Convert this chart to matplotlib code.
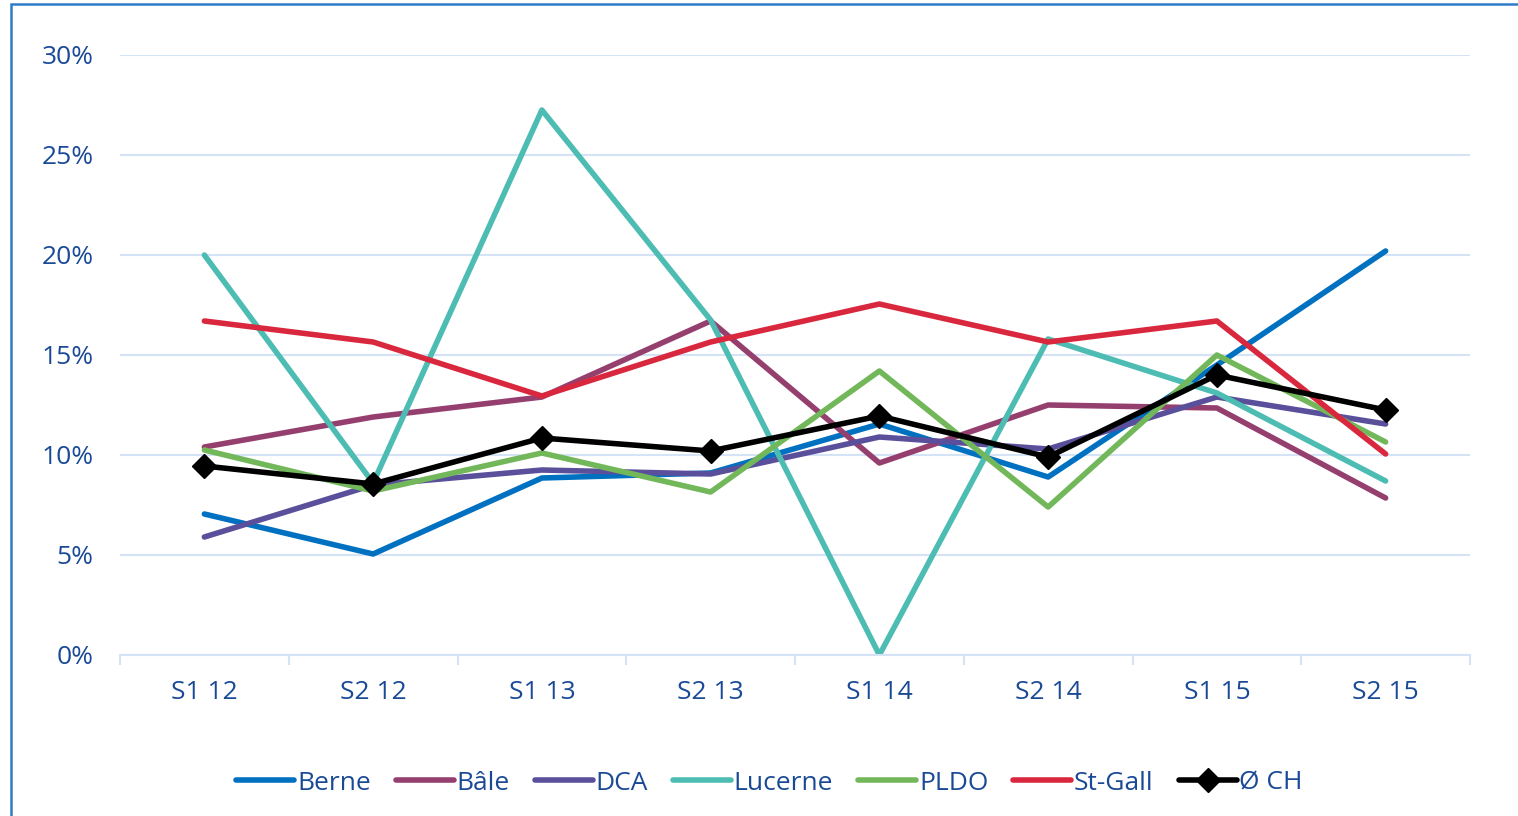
import matplotlib.pyplot as plt
from matplotlib.patches import Rectangle
from matplotlib.ticker import FixedLocator, NullFormatter

plt.rcParams['font.family'] = ['Open Sans', 'DejaVu Sans']

# periods and shares (%) per region
periods = ['S1 12', 'S2 12', 'S1 13', 'S2 13', 'S1 14', 'S2 14', 'S1 15', 'S2 15']
berne = [7.05, 5.05, 8.85, 9.1, 11.55, 8.9, 14.5, 20.2]
bale = [10.4, 11.9, 12.9, 16.7, 9.6, 12.5, 12.35, 7.85]
dca = [5.9, 8.5, 9.25, 9.05, 10.9, 10.3, 12.9, 11.55]
lucerne = [20.0, 8.6, 27.25, 16.75, 0.0, 15.8, 13.1, 8.7]
pldo = [10.25, 8.2, 10.1, 8.15, 14.2, 7.4, 15.0, 10.65]
st_gall = [16.7, 15.65, 12.95, 15.65, 17.55, 15.65, 16.7, 10.05]
ch_avg = [9.45, 8.55, 10.85, 10.2, 11.95, 9.9, 14.0, 12.25]

text_color = '#1A4A96'
grid_color = '#D5E3F6'

series = [
    ('Berne', berne, '#0070C0'),
    ('Bâle', bale, '#953F6F'),
    ('DCA', dca, '#594F9B'),
    ('Lucerne', lucerne, '#4DBDB4'),
    ('PLDO', pldo, '#72B85A'),
    ('St-Gall', st_gall, '#D9283D'),
]

fig = plt.figure(figsize=(15.18, 8.16), dpi=100)
ax = fig.add_axes([120 / 1518, 1 - 655 / 816, 1350 / 1518, 600 / 816])

x = list(range(len(periods)))
for name, vals, col in series:
    ax.plot(x, vals, color=col, lw=4.0, label=name, solid_capstyle='round')
ax.plot(x, ch_avg, color='black', lw=4.0, marker='D', markersize=12,
        label='Ø CH', solid_capstyle='round')

ax.set_xlim(-0.5, len(periods) - 0.5)
ax.set_ylim(0, 30)
ax.set_yticks(range(0, 31, 5))
ax.set_yticklabels([f'{v}%' for v in range(0, 31, 5)])
ax.yaxis.grid(True, color=grid_color, lw=1.5)
ax.set_axisbelow(True)

ax.xaxis.set_major_locator(FixedLocator([i - 0.5 for i in range(len(periods) + 1)]))
ax.xaxis.set_major_formatter(NullFormatter())
ax.xaxis.set_minor_locator(FixedLocator(x))
ax.set_xticklabels(periods, minor=True)
ax.tick_params(axis='x', which='major', length=7, width=1.5, color=grid_color)
ax.tick_params(axis='x', which='minor', length=0, pad=18, labelsize=19, labelcolor=text_color)
ax.tick_params(axis='y', length=0, pad=19, labelsize=19, labelcolor=text_color)

for side in ['top', 'right', 'left']:
    ax.spines[side].set_visible(False)
ax.spines['bottom'].set_color(grid_color)
ax.spines['bottom'].set_linewidth(1.5)

fig.legend(loc='center', bbox_to_anchor=(0.507, 1 - 783 / 816), ncol=7,
           frameon=False, fontsize=19, labelcolor=text_color,
           handlelength=2.2, handletextpad=0.1, columnspacing=0.95)

# outer chart frame
fig.patches.append(Rectangle((11 / 1518, -0.2), 1.2, 1.2 - 4 / 816,
                             transform=fig.transFigure, fill=False,
                             edgecolor='#2E7BC8', lw=1.8))

fig.savefig('out.png', dpi=100)
